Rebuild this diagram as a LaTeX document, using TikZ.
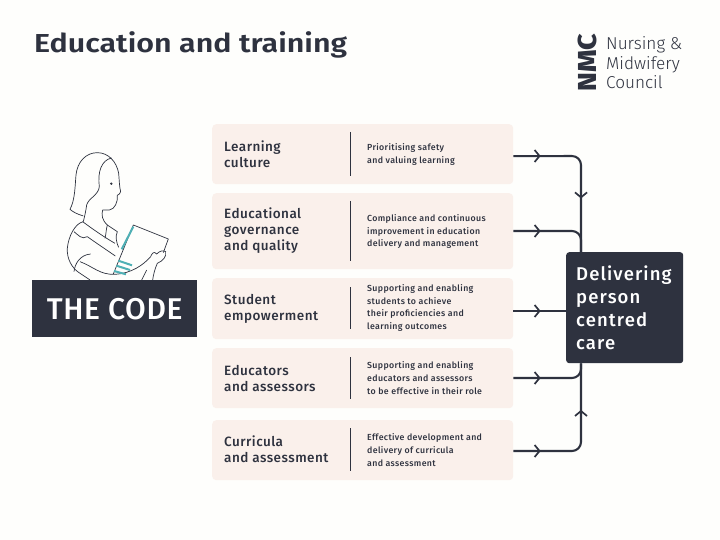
\documentclass[tikz,border=0pt]{standalone}
\usepackage{fontspec}
\setmainfont{Fira Sans Medium}[BoldFont=Fira Sans SemiBold]
\newfontfamily\lightfont{Fira Sans Light}
\newfontfamily\heavyfont{Fira Sans ExtraBold}
\usetikzlibrary{arrows.meta,decorations.markings,calc}
\definecolor{ink}{HTML}{2E323F}
\definecolor{peach}{HTML}{FAF0EB}
\definecolor{teal}{HTML}{4FB0B5}
\definecolor{paper}{HTML}{FEFEFC}
\tikzset{
  panel/.style={fill=peach,rounded corners=4pt,inner sep=0pt,minimum width=301pt,anchor=north west},
  heading/.style={anchor=west,align=left,inner sep=0pt,text=ink,font=\fontsize{13.5}{16}\selectfont\addfontfeature{LetterSpace=3.5}},
  detail/.style={anchor=west,align=left,inner sep=0pt,text=ink,font=\fontsize{8.8}{12.6}\selectfont\addfontfeature{LetterSpace=4}},
  rulev/.style={draw=ink,line width=0.8pt},
  link/.style={draw=ink,line width=2.1pt,rounded corners=9pt},
  chev/.style={postaction={decorate},decoration={markings,mark=at position #1 with {\arrow[ink]{Straight Barb[length=5pt,width=12pt,line width=1.7pt]}}}},
  figline/.style={draw=ink,line width=0.7pt,line join=round}
}
\begin{document}
\begin{tikzpicture}[x=1pt,y=-1pt]
\useasboundingbox (0,0) rectangle (720,540);
\fill[paper] (0,0) rectangle (720,540);

\node[anchor=west,inner sep=0pt,text=ink,font=\fontsize{26}{28}\selectfont\bfseries\addfontfeature{FakeStretch=1.17}] (title) at (34,45) {Education and training};

% logo
\node[rotate=90,inner sep=0pt,text=ink,font=\heavyfont\fontsize{26}{28}\selectfont\addfontfeature{FakeStretch=1.1}] (nmc) at (587.5,62.5) {NMC};
\node[anchor=west,align=left,inner sep=0pt,text=ink,font=\lightfont\fontsize{17.2}{19.5}\selectfont] (council) at (606,63) {Nursing \&\\Midwifery\\Council};

% panels
\node[panel,minimum height=60pt] (b1) at (212,124) {};
\node[panel,minimum height=76pt] (b2) at (212,193) {};
\node[panel,minimum height=61pt] (b3) at (212,278) {};
\node[panel,minimum height=60pt] (b4) at (212,348) {};
\node[panel,minimum height=60pt] (b5) at (212,420) {};

\node[heading] (h1) at (224,154) {Learning\\culture};
\node[heading] (h2) at (224,231) {Educational\\governance\\and quality};
\node[heading] (h3) at (224,308.5) {Student\\empowerment};
\node[heading] (h4) at (224,378.5) {Educators\\and assessors};
\node[heading] (h5) at (224,449.5) {Curricula\\and assessment};

\draw[rulev] (350,132) -- (350,176);
\draw[rulev] (350,201) -- (350,261);
\draw[rulev] (350,287) -- (350,329);
\draw[rulev] (350,357) -- (350,399);
\draw[rulev] (350,428) -- (350,471);

\node[detail] (d1) at (367,154.5) {Prioritising safety\\and valuing learning};
\node[detail] (d2) at (367,231.5) {Compliance and continuous\\improvement in education\\delivery and management};
\node[detail] (d3) at (367,308) {Supporting and enabling\\students to achieve\\their proficiencies and\\learning outcomes};
\node[detail] (d4) at (367,378) {Supporting and enabling\\educators and assessors\\to be effective in their role};
\node[detail] (d5) at (367,450) {Effective development and\\delivery of curricula\\and assessment};

% outcome box
\node[fill=ink,rounded corners=3pt,minimum width=117pt,minimum height=111pt,inner sep=0pt,anchor=north west] (out) at (566,252) {};
\node[anchor=west,align=left,inner sep=0pt,text=white,font=\fontsize{18.5}{23}\selectfont\addfontfeature{LetterSpace=6}] (outtext) at (576,308) {Delivering\\person\\centred\\care};

% connectors
\coordinate (top) at ($(out.north west)+(15,0)$);
\coordinate (bot) at ($(out.south west)+(15,0)$);
\draw[link] ($(b1.east)+(0,2)$) -- (581,156) -- (top);
\draw[link] (b2.east |- 0,231) -- (581,231) -- (top);
\draw[link] (b3.east |- 0,311) -- (out.west |- 0,311);
\draw[link] (b4.east |- 0,378) -- (581,378) -- (bot);
\draw[link] (b5.east |- 0,451) -- (581,451) -- (bot);
\path[chev=0.5] (b1.east |- 0,156) -- (568,156);
\path[chev=0.5] (b2.east |- 0,231) -- (568,231);
\path[chev=0.5] (b3.east |- 0,311) -- (568,311);
\path[chev=0.5] (b4.east |- 0,378) -- (568,378);
\path[chev=0.5] (b5.east |- 0,451) -- (568,451);
\path[chev=0.5] ($(top)+(0,-95)$) -- ($(top)+(0,-12)$);
\path[chev=0.5] ($(bot)+(0,88)$) -- ($(bot)+(0,5)$);

% figure
\begin{scope}[x=0.3333pt,y=-0.3333pt,yshift=-130pt]
\draw[figline] (250,258) .. controls (230,252) and (218,245) .. (210,238)
  .. controls (225,210) and (225,170) .. (228,135)
  .. controls (232,95) and (258,68) .. (292,68)
  .. controls (325,68) and (350,95) .. (356,130)
  .. controls (358,150) and (358,170) .. (362,185)
  .. controls (362,192) and (355,193) .. (352,196)
  .. controls (354,215) and (345,238) .. (328,240)
  -- (308,240) .. controls (304,255) and (306,270) .. (322,285);
\draw[figline] (335,84) .. controls (305,90) and (292,125) .. (298,170)
  .. controls (296,195) and (265,205) .. (260,225)
  .. controls (258,240) and (256,250) .. (250,275);
\draw[figline] (250,275) .. controls (225,280) and (205,320) .. (202,355)
  .. controls (200,385) and (215,415) .. (240,430) -- (270,450);
\draw[figline] (248,275) .. controls (275,295) and (310,320) .. (345,340);
\draw[figline] (222,305) .. controls (235,315) and (245,330) .. (262,320)
  .. controls (290,340) and (320,360) .. (346,378);
\draw[figline] (322,285) .. controls (318,300) and (318,315) .. (315,325);
\draw[figline] (322,285) -- (352,305) .. controls (345,320) and (350,340) .. (356,352);
\draw[figline] (222,425) .. controls (225,400) and (240,375) .. (272,372);
\draw[figline] (240,395) .. controls (280,410) and (300,435) .. (345,433)
  .. controls (395,430) and (430,405) .. (452,380);
\draw[figline] (340,432) -- (400,285) -- (505,327) -- (490,368);
\draw[figline] (452,380) .. controls (456,370) and (462,362) .. (470,372)
  .. controls (480,362) and (490,360) .. (497,365)
  .. controls (500,380) and (490,392) .. (472,400)
  .. controls (465,415) and (460,435) .. (458,450);
\draw[figline] (440,420) -- (425,450);
\draw[teal,line width=2pt] (400,290) -- (365,358);
\draw[teal,line width=2pt] (355,392) -- (396,406);
\draw[teal,line width=2pt] (349,407) -- (390,420);
\draw[teal,line width=2pt] (342,423) -- (378,433);
\fill[ink] (334,161) circle (4);
\end{scope}

\node[fill=ink,minimum width=165pt,minimum height=57pt,inner sep=0pt,anchor=north west,text=white,font=\fontsize{30}{32}\selectfont\addfontfeature{LetterSpace=2}] (code) at (32,280) {THE CODE};
\end{tikzpicture}
\end{document}
